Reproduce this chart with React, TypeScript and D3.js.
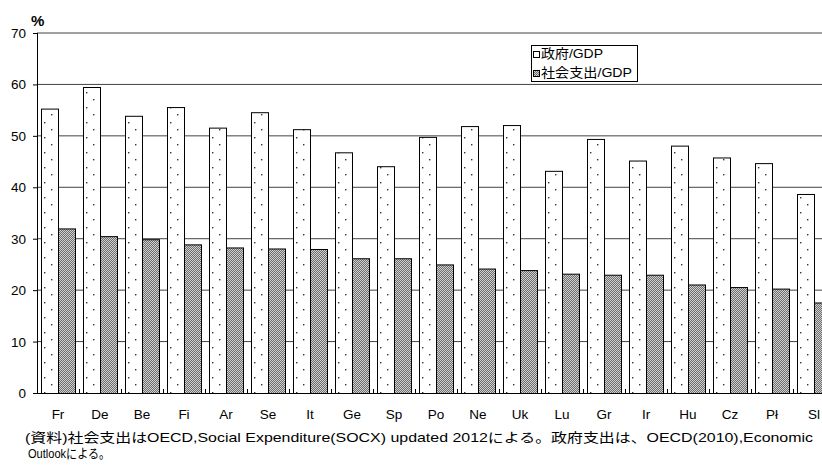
import * as d3 from "d3";

const categories = ["Fr", "De", "Be", "Fi", "Ar", "Se", "It", "Ge", "Sp", "Po", "Ne", "Uk", "Lu", "Gr", "Ir", "Hu", "Cz", "Pl", "Sl"];
const categoryLabels = ["Fr", "De", "Be", "Fi", "Ar", "Se", "It", "Ge", "Sp", "Po", "Ne", "Uk", "Lu", "Gr", "Ir", "Hu", "Cz", "P\u0142", "Sl"];
const govValues = [55.3, 59.5, 53.9, 55.6, 51.6, 54.6, 51.3, 46.8, 44.1, 49.8, 51.9, 52.1, 43.2, 49.4, 45.2, 48.1, 45.8, 44.7, 38.7];
const socialValues = [32.0, 30.5, 29.9, 28.9, 28.3, 28.1, 28.0, 26.2, 26.2, 25.0, 24.2, 23.9, 23.2, 23.0, 23.0, 21.1, 20.6, 20.3, 17.6];
const seriesNames = ["政府/GDP", "社会支出/GDP"];
const yTicks = [0, 10, 20, 30, 40, 50, 60, 70];
const noteLine1 = "(資料)社会支出はOECD,Social Expenditure(SOCX) updated 2012による。政府支出は、OECD(2010),Economic";
const noteLine2 = "Outlookによる。";

const font = "'Liberation Sans', Arial, 'Noto Sans CJK JP', sans-serif";

const App = () => {
  const width = 822;
  const height = 465;
  const margin = { top: 33, left: 37, bottom: 393 };
  const step = 42;

  const x = d3
    .scaleBand()
    .domain(categories)
    .range([margin.left, margin.left + step * categories.length])
    .paddingInner(8 / 42)
    .paddingOuter(4 / 42);

  const xSub = d3.scaleBand().domain(["gov", "social"]).range([0, x.bandwidth()]);

  const y = d3.scaleLinear().domain([0, 70]).range([margin.bottom, margin.top]);

  const boundaries = d3.range(categories.length + 1).map((i) => margin.left + i * step);

  return (
    <svg
      width={width}
      height={height}
      style={{ position: "absolute", left: 0, top: 0, background: "#fff" }}
      fontFamily={font}
    >
      <defs>
        <pattern id="dots" patternUnits="userSpaceOnUse" width={15} height={15}>
          <rect width={15} height={15} fill="#fff" />
          <rect x={3} y={2} width={1.4} height={1.4} fill="#333" />
          <rect x={10} y={9} width={1.4} height={1.4} fill="#333" />
        </pattern>
        <pattern id="checker" patternUnits="userSpaceOnUse" width={2} height={2}>
          <rect width={2} height={2} fill="#d0d0d0" />
          <rect x={0} y={0} width={1} height={1} fill="#6e6e6e" />
          <rect x={1} y={1} width={1} height={1} fill="#6e6e6e" />
        </pattern>
      </defs>

      {/* gridlines */}
      {yTicks.slice(1).map((t) => (
        <line key={t} x1={margin.left} x2={width} y1={y(t)} y2={y(t)} stroke="#444" strokeWidth={1} />
      ))}

      {/* bars */}
      {categories.map((c, i) => (
        <g key={c} transform={`translate(${x(c)},0)`}>
          <rect
            x={xSub("gov")! + 0.5}
            y={y(govValues[i]) + 0.5}
            width={xSub.bandwidth()}
            height={y(0) - y(govValues[i])}
            fill="url(#dots)"
            stroke="#000"
            strokeWidth={1}
          />
          <rect
            x={xSub("social")! + 0.5}
            y={y(socialValues[i]) + 0.5}
            width={xSub.bandwidth()}
            height={y(0) - y(socialValues[i])}
            fill="url(#checker)"
            stroke="#000"
            strokeWidth={1}
          />
        </g>
      ))}

      {/* y axis */}
      <line x1={margin.left + 0.5} x2={margin.left + 0.5} y1={y(70)} y2={y(0)} stroke="#000" />
      {yTicks.map((t) => (
        <g key={t}>
          <line x1={margin.left - 4} x2={margin.left} y1={y(t) + 0.5} y2={y(t) + 0.5} stroke="#000" />
          <text x={26} y={y(t) + 5} textAnchor="end" fontSize={13.5} fill="#000">
            {t}
          </text>
        </g>
      ))}
      <text x={31} y={26} fontSize={15} fontWeight="bold" fill="#000">
        %
      </text>

      {/* x axis */}
      <line x1={margin.left} x2={width} y1={y(0) + 0.5} y2={y(0) + 0.5} stroke="#000" />
      {boundaries.map((b) => (
        <line key={b} x1={b + 0.5} x2={b + 0.5} y1={y(0) - 4} y2={y(0)} stroke="#000" />
      ))}
      {categories.map((c, i) => (
        <text key={c} x={x(c)! + x.bandwidth() / 2} y={419} textAnchor="middle" fontSize={13.5} fill="#000">
          {categoryLabels[i]}
        </text>
      ))}

      {/* legend */}
      <g>
        <rect x={531.5} y={45.5} width={106} height={36} fill="#fff" stroke="#000" />
        <rect x={533.5} y={51.5} width={6} height={6} fill="#fff" stroke="#000" />
        <text x={541} y={58} fontSize={13} fill="#000" textLength={62} lengthAdjust="spacingAndGlyphs">
          {seriesNames[0]}
        </text>
        <rect x={533.5} y={70.5} width={6} height={6} fill="url(#checker)" stroke="#000" />
        <text x={541} y={77} fontSize={13} fill="#000" textLength={91} lengthAdjust="spacingAndGlyphs">
          {seriesNames[1]}
        </text>
      </g>

      {/* note */}
      <text x={25} y={442} fontSize={13} fill="#000" textLength={788} lengthAdjust="spacingAndGlyphs">
        {noteLine1}
      </text>
      <text x={28} y={458} fontSize={13} fill="#000" textLength={82} lengthAdjust="spacingAndGlyphs">
        {noteLine2}
      </text>
    </svg>
  );
};

export default App;
